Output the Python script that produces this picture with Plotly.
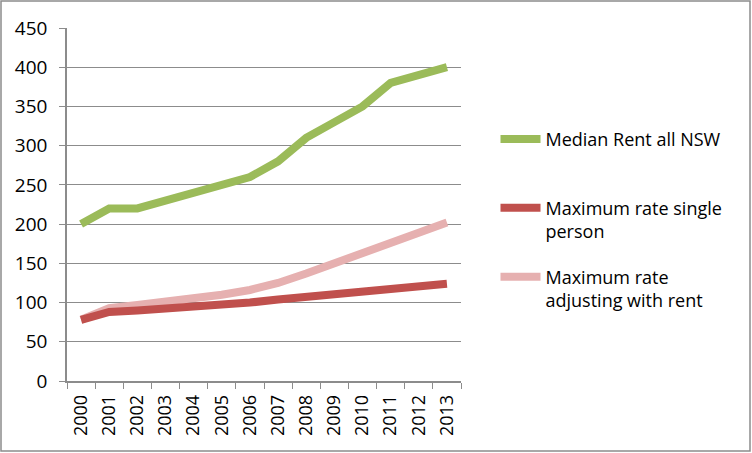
import plotly.graph_objects as go

years = [str(y) for y in range(2000, 2014)]
median_rent = [200, 220, 220, 230, 240, 250, 260, 280, 310, 330, 350, 380, 390, 400]
max_single = [78, 88, 90, 92, 95, 97, 100, 104, 107, 111, 114, 117, 120, 124]
max_adjusting = [78, 93, 97, 101, 105, 110, 116, 125, 137, 150, 162, 176, 190, 202]

W, H = 752, 453
L, R, T, B = 67, 291, 28, 72
pw, ph = W - L - R, H - T - B

FONT = "Open Sans"
GRID = "#8c8c8c"

fig = go.Figure()
fig.add_trace(go.Scatter(x=years, y=median_rent, mode="lines", name="Median Rent all NSW<br> ",
                         line=dict(color="#9bbb59", width=8), legendgroup="a", legendrank=1))
fig.add_trace(go.Scatter(x=years, y=max_adjusting, mode="lines", name="Maximum rate<br>adjusting with rent",
                         line=dict(color="#e6b0b0", width=8), legendgroup="c", legendrank=3))
fig.add_trace(go.Scatter(x=years, y=max_single, mode="lines", name="Maximum rate single<br>person",
                         line=dict(color="#c0504d", width=8), legendgroup="b", legendrank=2))

# outer frame around the whole picture
fig.add_shape(type="rect", xref="paper", yref="paper",
              x0=(1 - L) / pw, x1=(W - 2 - L) / pw,
              y0=-(H - 2 - T - ph) / ph, y1=(T - 1) / ph + 1,
              line=dict(color="#8c8c8c", width=1.5))

fig.update_layout(
    width=W, height=H,
    margin=dict(l=L, r=R, t=T, b=B),
    plot_bgcolor="white", paper_bgcolor="white",
    font=dict(family=FONT, color="black"),
    legend=dict(x=(495.5 - L) / pw, y=0.737, xanchor="left", yanchor="top",
                font=dict(size=18, family=FONT), valign="top",
                traceorder="grouped", tracegroupgap=19, itemwidth=40),
    showlegend=True,
)
fig.update_xaxes(type="category", range=[-0.5, 13.5], tickangle=-90,
                 tickfont=dict(size=18), ticks="outside", tickson="boundaries",
                 ticklen=6, tickcolor=GRID, showline=True, linecolor=GRID,
                 linewidth=1.5, showgrid=False, ticklabelstandoff=5)
fig.update_yaxes(range=[0, 450], dtick=50, tickfont=dict(size=19),
                 ticks="outside", ticklen=6, tickcolor=GRID,
                 showline=True, linecolor=GRID, linewidth=1.5,
                 gridcolor=GRID, gridwidth=1.2, zeroline=False,
                 ticklabelstandoff=8)

fig.write_html("out.html", config={"displayModeBar": False},
               post_script="document.body.style.margin='0px';")
